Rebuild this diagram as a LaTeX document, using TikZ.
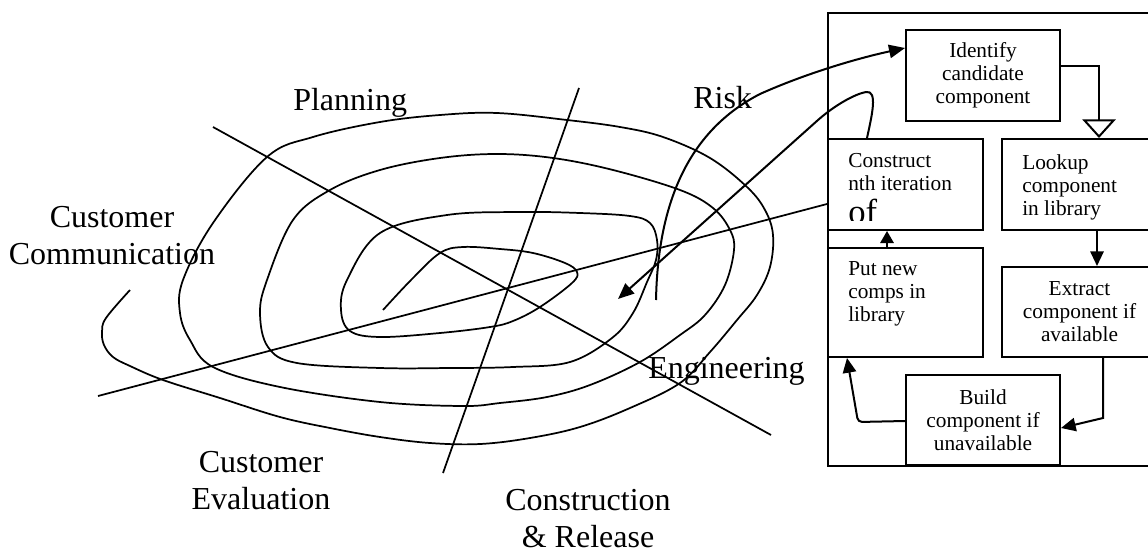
\documentclass[tikz,border=0pt]{standalone}
\usepackage{fontspec}
\setmainfont{Liberation Serif}
\usetikzlibrary{arrows.meta,calc}
\begin{document}
\begin{tikzpicture}[x=0.75pt,y=-0.75pt,
  curve/.style={line width=1.3pt, line join=round},
  frame/.style={draw, line width=1.5pt, inner sep=0pt, anchor=north west},
  stage/.style={font=\fontsize{24pt}{27.75pt}\selectfont, inner sep=0pt, align=center},
  boxtext/.style={font=\fontsize{16pt}{17.25pt}\selectfont, align=center},
  lefttext/.style={font=\fontsize{16pt}{17.25pt}\selectfont, align=left, anchor=north west, inner sep=0pt},
  conn/.style={line width=1.5pt, -{Triangle[length=11pt,width=10pt]}},
  bigtip/.style={-{Triangle[length=12pt,width=10pt]}},
]
\useasboundingbox (0,0) rectangle (1148,553);
\clip (0,0) rectangle (1148,553);

% ---------- spiral model ----------
\draw[curve] plot[smooth, tension=0.6] coordinates {
  (383,310) (412,279) (440,253) (463,247) (500,249) (533,253) (565,263)
  (577,272) (572,283) (540,307) (513,321) (490,327) (440,333) (380,337)
  (350,331) (341,310) (347,280) (380,233) (447,215) (520,212) (580,213)
  (630,216) (650,223) (657,240) (656,260) (647,282) (633,313) (612,338)
  (570,362) (513,367) (450,368) (380,368) (297,363) (268,347) (260,313)
  (267,280) (293,220) (330,190) (380,170) (440,158) (497,154) (553,158)
  (613,170) (680,190) (713,208) (730,230) (734,250) (725,285) (705,315)
  (680,335) (640,362) (590,385) (547,397) (500,403) (463,406) (380,402)
  (280,387) (213,367) (190,340) (180,313) (183,280) (213,223)
  (267,157) (313,137) (380,122) (440,115) (497,113) (567,120) (620,127)
  (663,137) (710,158) (747,187) (765,210) (773,235) (770,267) (757,295)
  (737,320) (710,352) (680,383) (630,408) (580,427) (530,438) (480,444)
  (430,443) (380,437) (330,428) (280,417) (220,398) (163,380) (130,366)
  (113,357) (104,345) (102,332) (106,318) (130,290)};

% quadrant dividers
\draw[curve] (213,127) -- (771,435);
\draw[curve] (579,88) -- (443,473);
\draw[curve] (98,396) -- (827,204);

% quadrant names
\node[stage, anchor=north] (CustComm) at (112,206) {Customer\\Communication};
\node[stage, anchor=base west] (Planning) at (293,110) {Planning};
\node[stage, anchor=base west] (Risk) at (693,108) {Risk};
\node[stage, anchor=base west] (Engineering) at (648,378) {Engineering};
\node[stage, anchor=north] (CustEval) at (261,451) {Customer\\Evaluation};
\node[stage, anchor=north] (Construction) at (588,489) {Construction\\\& Release};

% ---------- component-based development panel ----------
\node[frame, minimum width=300pt, minimum height=339.75pt] (Panel) at (827,12) {};
\node[frame, boxtext, minimum width=115.5pt, minimum height=68.25pt] (Identify) at (905,29)
  {Identify\\candidate\\component};
\node[frame, minimum width=116.25pt, minimum height=68.25pt] (Construct) at (827,138) {};
\node[frame, minimum width=116.25pt, minimum height=68.25pt] (Lookup) at (1001,138) {};
\node[frame, minimum width=116.25pt, minimum height=81.75pt] (PutNew) at (827,247) {};
\node[frame, boxtext, minimum width=116.25pt, minimum height=67.5pt] (Extract) at (1001,266)
  {Extract\\component if\\available};
\node[frame, boxtext, minimum width=115.5pt, minimum height=67.5pt] (Build) at (905,374)
  {Build\\component if\\unavailable};

\node[lefttext] (ConstructText) at ($(Construct.north west)+(21,15)$) {Construct\\nth iteration};
\node[lefttext] (LookupText) at ($(Lookup.north west)+(21,16)$) {Lookup\\component\\in library};
\node[lefttext] (PutNewText) at ($(PutNew.north west)+(21,14)$) {Put new\\comps in\\library};

% oversized last word, cut off by its text frame
\begin{scope}
  \clip (840,190) rectangle (980,220);
  \node[anchor=base west, inner sep=0pt, font=\fontsize{26pt}{30pt}\selectfont] (OfWord) at (848,223) {of};
\end{scope}

% flow inside the panel
\draw[conn, -{Triangle[open, length=14pt, width=25pt]}]
  (Identify.east |- 0,66) -| (1099,0 |- Lookup.north);
\draw[conn] (1097,0 |- Lookup.south) -- (1097,0 |- Extract.north);
\draw[conn] (1103,0 |- Extract.south) -- (1103,418) -- (Build.east |- 0,428);
\draw[conn, rounded corners=3pt] (Build.west |- 0,421) -- (858,422) -- (847,0 |- PutNew.south);
\draw[conn, -{Triangle[length=9pt,width=10pt]}] (887,0 |- PutNew.north) -- (887,0 |- Construct.south);

% links between the spiral and the panel
\coordinate (RiskStart) at (656,300);
\coordinate (IdIn) at ($(Identify.north west)+(0,19)$);
\draw[curve, line width=1.5pt, bigtip] (RiskStart) .. controls (658,200) and (690,130) .. (760,94)
  .. controls (800,76) and (850,60) .. (IdIn);

\coordinate (CoOut) at ($(Construct.north west)+(40,0)$);
\coordinate (SpTip) at (618,299);
\draw[curve, line width=1.5pt, bigtip] (CoOut) .. controls (872,115) and (878,90) .. (866,92)
  .. controls (855,94) and (835,105) .. (818,120) -- (SpTip);
\end{tikzpicture}
\end{document}
